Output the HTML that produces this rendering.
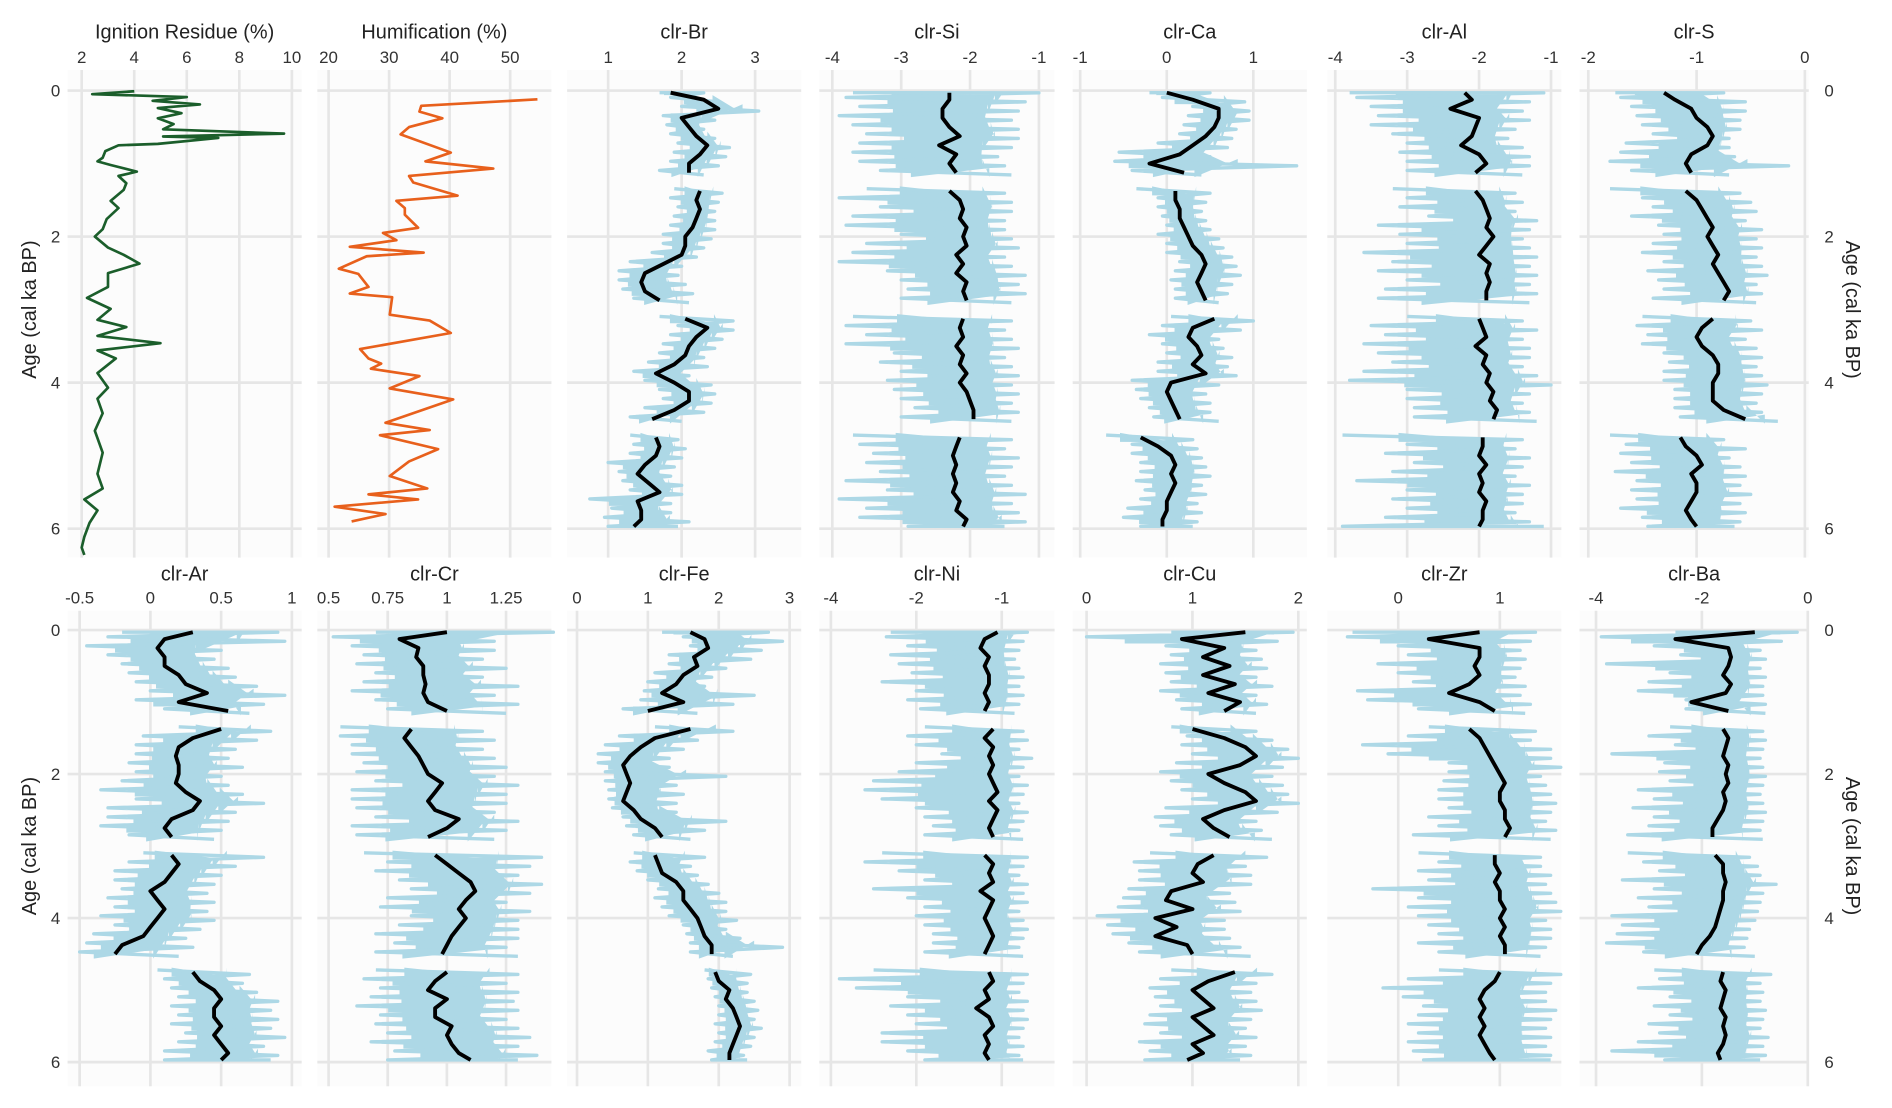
<!DOCTYPE html>
<html><head><meta charset="utf-8"><title>Geochemical profiles</title>
<style>
html,body{margin:0;padding:0;background:#fff;}
svg{display:block;font-family:"Liberation Sans",Arial,sans-serif;}
</style></head>
<body>
<svg id="chart" width="1892" height="1108" viewBox="0 0 1568 918" preserveAspectRatio="none" xmlns="http://www.w3.org/2000/svg"></svg>
<script>
// ---------- data ----------
const depthStep = 0.125; // ka per sample index (0..48)
const ageTicks = [0, 2, 4, 6];

const ignDepth = [0.01,0.05,0.09,0.14,0.19,0.24,0.31,0.38,0.46,0.53,0.59,0.63,0.65,0.73,0.75,0.83,0.92,0.97,1.02,1.11,1.17,1.27,1.36,1.51,1.61,1.76,1.9,2.0,2.15,2.25,2.37,2.5,2.69,2.84,2.99,3.14,3.24,3.36,3.46,3.56,3.67,3.87,4.07,4.22,4.42,4.66,4.96,5.25,5.45,5.6,5.75,5.92,6.11,6.26,6.36];
const ignValue = [4.0,2.4,6.0,4.7,6.5,4.9,5.8,4.9,5.5,5.1,9.7,5.1,7.2,4.9,3.4,2.9,2.8,2.6,3.1,4.1,3.4,3.7,3.6,3.1,3.4,2.95,2.8,2.5,3.0,3.6,4.2,3.0,3.0,2.2,3.1,2.6,3.7,2.6,5.0,2.6,3.3,2.6,3.0,2.6,2.8,2.5,2.8,2.6,2.8,2.1,2.6,2.3,2.1,2.0,2.1];

const humDepth = [0.12,0.21,0.29,0.38,0.5,0.6,0.85,0.97,1.07,1.17,1.26,1.44,1.51,1.61,1.7,1.88,1.95,2.05,2.14,2.22,2.27,2.44,2.51,2.69,2.78,2.83,3.07,3.15,3.32,3.54,3.67,3.74,3.81,3.91,4.08,4.23,4.55,4.65,4.72,4.91,5.08,5.28,5.45,5.53,5.6,5.7,5.8,5.9];
const humValue = [54.5,35.3,35,38.8,33.3,31.9,40.2,36,47.2,33.3,34,41.3,31.2,32.6,32.6,34.8,29,31.2,23.5,35.7,26.3,21.7,24.9,26.6,23.5,30.5,30.1,36.7,40.2,25.2,26.6,28.7,27,35,30.1,40.6,29.4,36.7,28.5,38.1,33.3,30.1,36.3,26.6,34.8,21,29.4,23.8];

const brS=[1.85,2.3,2.5,2.0,2.1,2.2,2.35,2.25,2.1,2.1,null,2.25,2.2,2.25,2.2,2.15,2.05,2.05,2.0,1.75,1.5,1.45,1.5,1.7,null,2.05,2.35,2.2,2.1,2.05,1.9,1.65,1.9,2.1,2.1,1.9,1.6,null,1.65,1.7,1.65,1.5,1.4,1.55,1.7,1.4,1.45,1.45,1.35];
const brL=[1.7,1.85,2.0,1.75,1.8,1.85,1.95,1.9,1.85,1.7,null,1.9,1.85,1.95,1.9,1.85,1.75,1.75,1.6,1.3,1.15,1.15,1.2,1.35,null,1.7,1.95,1.85,1.75,1.7,1.55,1.35,1.5,1.7,1.75,1.5,1.3,null,1.3,1.35,1.3,1.0,1.15,1.2,1.3,0.75,1.05,0.95,1.0];
const brH=[2.3,2.5,3.05,2.45,2.3,2.45,2.65,2.6,2.5,2.3,null,2.55,2.5,2.45,2.45,2.45,2.4,2.3,2.2,2.0,1.95,2.05,2.15,2.1,null,2.7,2.7,2.55,2.45,2.3,2.35,2.1,2.4,2.45,2.4,2.3,2.0,null,1.95,2.05,2.0,1.9,1.85,2.0,2.0,1.85,1.85,2.1,1.95];

const siS=[-2.3,-2.3,-2.4,-2.4,-2.3,-2.15,-2.45,-2.2,-2.3,-2.2,null,-2.3,-2.15,-2.1,-2.15,-2.05,-2.1,-2.05,-2.2,-2.1,-2.2,-2.05,-2.1,-2.05,null,-2.1,-2.15,-2.1,-2.2,-2.1,-2.15,-2.05,-2.15,-2.05,-2.0,-1.95,-1.95,null,-2.15,-2.2,-2.25,-2.2,-2.25,-2.2,-2.25,-2.15,-2.2,-2.05,-2.1];
const siL=[-3.7,-3.8,-3.6,-3.9,-3.7,-3.5,-3.6,-3.7,-3.6,-3.3,null,-3.5,-3.9,-3.3,-3.7,-3.8,-3.0,-3.5,-3.7,-3.9,-3.2,-3.0,-2.9,-3.0,null,-3.7,-3.8,-3.5,-3.8,-3.1,-3.3,-3.0,-3.2,-3.1,-3.0,-2.8,-3.0,null,-3.7,-3.6,-3.4,-3.5,-3.3,-3.8,-3.2,-3.9,-3.5,-3.6,-2.9];
const siH=[-1.0,-1.2,-1.3,-1.4,-1.3,-1.3,-1.4,-1.6,-1.5,-1.4,null,-1.5,-1.4,-1.4,-1.5,-1.5,-1.4,-1.3,-1.5,-1.4,-1.2,-1.3,-1.2,-1.4,null,-1.4,-1.5,-1.4,-1.3,-1.5,-1.4,-1.3,-1.4,-1.3,-1.4,-1.3,-1.4,null,-1.4,-1.5,-1.3,-1.4,-1.5,-1.4,-1.2,-1.4,-1.3,-1.2,-1.5];

const caS=[0.0,0.3,0.6,0.6,0.55,0.45,0.3,0.15,-0.2,0.2,null,0.1,0.1,0.15,0.15,0.2,0.25,0.3,0.4,0.45,0.4,0.35,0.4,0.45,null,0.55,0.3,0.25,0.35,0.4,0.3,0.45,0.05,0.0,0.05,0.1,0.15,null,-0.3,-0.1,0.05,0.1,0.05,0.1,0.05,0.0,0.0,-0.05,-0.05];
const caL=[-0.2,-0.05,0.3,0.25,0.2,0.15,-0.1,-0.55,-0.6,-0.4,null,-0.35,-0.1,-0.1,-0.05,0.0,-0.1,0.0,0.0,0.15,0.1,0.05,0.1,0.1,null,0.05,-0.05,-0.2,-0.05,0.0,-0.1,-0.1,-0.4,-0.35,-0.3,-0.2,-0.15,null,-0.7,-0.4,-0.4,-0.3,-0.3,-0.35,-0.25,-0.3,-0.45,-0.5,-0.3];
const caH=[0.5,0.9,0.95,0.95,0.8,0.75,0.7,0.5,1.5,0.4,null,0.5,0.45,0.4,0.45,0.5,0.6,0.65,0.75,0.8,0.85,0.75,0.7,0.6,null,1.0,0.85,0.6,0.65,0.75,0.7,0.8,0.6,0.45,0.5,0.5,0.6,null,0.3,0.35,0.4,0.45,0.5,0.4,0.45,0.35,0.4,0.35,0.3];

const alS=[-2.2,-2.1,-2.4,-2.0,-2.05,-2.1,-2.25,-2.0,-1.9,-2.05,null,-2.05,-1.95,-1.9,-1.85,-1.9,-1.8,-1.9,-2.0,-1.85,-1.9,-1.85,-1.9,-1.9,null,-2.0,-1.95,-1.9,-2.05,-1.9,-1.95,-1.85,-1.9,-1.8,-1.85,-1.75,-1.8,null,-1.95,-1.95,-2.0,-1.9,-2.0,-1.95,-2.0,-1.9,-1.95,-1.95,-2.0];
const alL=[-3.8,-3.7,-3.5,-3.4,-3.5,-3.2,-3.0,-3.1,-3.0,-3.0,null,-3.2,-3.0,-3.1,-2.7,-3.4,-3.1,-3.0,-3.6,-3.2,-3.4,-3.0,-3.3,-3.4,null,-3.0,-3.5,-3.3,-3.6,-3.4,-3.2,-3.6,-3.8,-3.0,-3.0,-2.9,-2.9,null,-3.9,-3.0,-3.3,-2.9,-3.2,-3.7,-3.0,-3.2,-3.0,-3.3,-3.9];
const alH=[-1.1,-1.3,-1.4,-1.3,-1.5,-1.6,-1.4,-1.3,-1.3,-1.4,null,-1.5,-1.4,-1.5,-1.2,-1.3,-1.4,-1.3,-1.2,-1.3,-1.2,-1.3,-1.2,-1.3,null,-1.4,-1.2,-1.4,-1.3,-1.3,-1.4,-1.2,-1.0,-1.3,-1.4,-1.3,-1.2,null,-1.4,-1.5,-1.3,-1.4,-1.5,-1.3,-1.4,-1.4,-1.5,-1.3,-1.1];

const sS=[-1.3,-1.2,-1.05,-1.0,-0.9,-0.85,-0.9,-1.05,-1.1,-1.05,null,-1.1,-1.0,-0.95,-0.9,-0.85,-0.9,-0.85,-0.8,-0.85,-0.8,-0.75,-0.7,-0.75,null,-0.85,-0.95,-1.0,-0.95,-0.85,-0.8,-0.8,-0.85,-0.85,-0.85,-0.75,-0.55,null,-1.15,-1.1,-1.0,-0.95,-1.05,-1.0,-1.0,-1.05,-1.1,-1.05,-1.0];
const sL=[-1.75,-1.7,-1.6,-1.55,-1.5,-1.4,-1.65,-1.7,-1.8,-1.6,null,-1.8,-1.5,-1.4,-1.6,-1.35,-1.3,-1.4,-1.5,-1.3,-1.45,-1.35,-1.3,-1.4,null,-1.5,-1.55,-1.45,-1.5,-1.3,-1.25,-1.3,-1.3,-1.2,-1.2,-1.2,-1.15,null,-1.8,-1.65,-1.7,-1.6,-1.75,-1.55,-1.6,-1.55,-1.7,-1.5,-1.45];
const sH=[-0.75,-0.55,-0.55,-0.6,-0.6,-0.7,-0.7,-0.65,-0.15,-0.7,null,-0.6,-0.5,-0.45,-0.55,-0.4,-0.45,-0.4,-0.45,-0.4,-0.35,-0.45,-0.4,-0.45,null,-0.5,-0.4,-0.55,-0.45,-0.4,-0.45,-0.4,-0.35,-0.4,-0.45,-0.4,-0.25,null,-0.75,-0.55,-0.7,-0.6,-0.55,-0.6,-0.5,-0.6,-0.55,-0.6,-0.65];

const arS=[0.3,0.1,0.05,0.1,0.1,0.2,0.25,0.4,0.2,0.55,null,0.5,0.3,0.2,0.18,0.2,0.2,0.18,0.25,0.35,0.3,0.15,0.1,0.15,null,0.15,0.2,0.15,0.1,0.0,0.05,0.1,0.05,0.0,-0.05,-0.2,-0.25,null,0.3,0.35,0.45,0.5,0.45,0.45,0.5,0.45,0.5,0.55,0.5];
const arL=[-0.2,-0.3,-0.45,-0.3,-0.2,-0.15,-0.1,0.0,-0.1,0.1,null,0.2,-0.05,-0.1,-0.1,-0.15,-0.1,-0.2,-0.35,-0.1,-0.3,-0.3,-0.35,-0.15,null,-0.05,-0.15,-0.25,-0.25,-0.2,-0.3,-0.25,-0.35,-0.25,-0.4,-0.45,-0.5,null,0.05,0.1,0.15,0.2,0.15,0.2,0.15,0.25,0.2,0.1,0.1];
const arH=[0.9,0.95,0.5,0.45,0.55,0.6,0.75,0.95,0.8,0.7,null,0.85,0.75,0.6,0.55,0.65,0.5,0.55,0.65,0.8,0.6,0.55,0.5,0.45,null,0.8,0.6,0.5,0.45,0.4,0.45,0.4,0.45,0.35,0.25,0.3,0.2,null,0.7,0.65,0.75,0.9,0.85,0.9,0.85,0.95,0.8,0.9,0.85];

const crS=[1.0,0.8,0.88,0.87,0.9,0.9,0.91,0.9,0.92,1.0,null,0.85,0.82,0.85,0.88,0.9,0.92,0.98,0.95,0.92,0.95,1.05,1.0,0.92,null,0.95,1.0,1.05,1.1,1.12,1.08,1.05,1.08,1.05,1.02,1.0,0.98,null,1.0,0.95,0.92,1.0,0.95,0.95,1.02,1.0,1.02,1.05,1.1];
const crL=[0.7,0.52,0.6,0.65,0.62,0.7,0.65,0.6,0.7,0.75,null,0.55,0.55,0.6,0.6,0.65,0.62,0.7,0.6,0.6,0.62,0.7,0.6,0.62,null,0.65,0.75,0.7,0.8,0.85,0.75,0.72,0.85,0.8,0.7,0.78,0.7,null,0.7,0.65,0.72,0.68,0.62,0.72,0.7,0.75,0.68,0.78,0.75];
const crH=[1.45,1.2,1.2,1.15,1.25,1.15,1.3,1.2,1.3,1.25,null,1.15,1.2,1.15,1.2,1.25,1.2,1.3,1.25,1.25,1.2,1.3,1.25,1.2,null,1.4,1.35,1.3,1.4,1.35,1.25,1.35,1.3,1.3,1.3,1.25,1.3,null,1.3,1.25,1.3,1.28,1.3,1.25,1.3,1.35,1.3,1.38,1.3];

const feS=[1.6,1.8,1.85,1.65,1.7,1.5,1.4,1.2,1.5,1.0,null,1.6,1.1,0.9,0.75,0.65,0.7,0.75,0.7,0.65,0.8,0.9,1.1,1.2,null,1.1,1.15,1.2,1.4,1.5,1.5,1.6,1.7,1.75,1.8,1.9,1.9,null,1.95,2.0,2.15,2.1,2.2,2.25,2.3,2.25,2.2,2.15,2.15];
const feL=[1.2,1.5,1.6,1.3,1.3,1.1,1.0,0.95,0.9,0.65,null,1.1,0.6,0.4,0.3,0.3,0.4,0.4,0.45,0.45,0.5,0.65,0.7,0.8,null,0.8,0.75,0.85,1.0,1.15,1.1,1.2,1.3,1.5,1.55,1.6,1.6,null,1.8,1.85,1.9,1.95,2.0,2.0,1.95,2.0,1.95,1.85,1.9];
const feH=[2.7,2.9,2.6,2.45,2.1,1.9,1.8,2.5,2.2,1.7,null,2.2,1.7,1.5,1.3,1.3,2.1,1.4,1.5,1.4,1.4,2.1,1.8,1.6,null,1.8,1.6,1.7,1.85,2.0,2.1,2.1,2.25,2.1,2.3,2.9,2.2,null,2.45,2.4,2.4,2.5,2.55,2.5,2.6,2.5,2.45,2.35,2.4];

const niS=[-1.05,-1.2,-1.25,-1.15,-1.2,-1.15,-1.15,-1.2,-1.15,-1.2,null,-1.1,-1.2,-1.1,-1.15,-1.1,-1.15,-1.1,-1.05,-1.15,-1.05,-1.1,-1.15,-1.1,null,-1.2,-1.1,-1.15,-1.1,-1.25,-1.1,-1.15,-1.2,-1.15,-1.1,-1.15,-1.2,null,-1.15,-1.1,-1.2,-1.15,-1.3,-1.15,-1.1,-1.2,-1.15,-1.2,-1.15];
const niL=[-2.3,-2.35,-2.1,-2.3,-2.2,-2.05,-2.4,-2.0,-2.1,-1.95,null,-1.9,-2.1,-2.0,-1.7,-2.0,-2.2,-2.5,-2.6,-2.4,-2.0,-1.9,-1.8,-1.9,null,-2.4,-2.6,-2.2,-1.9,-2.5,-2.1,-1.9,-2.0,-1.9,-1.8,-1.8,-1.9,null,-2.5,-2.9,-2.7,-2.1,-2.3,-2.1,-2.0,-2.4,-2.4,-2.1,-1.9];
const niH=[-0.7,-0.75,-0.8,-0.85,-0.8,-0.75,-0.8,-0.75,-0.8,-0.85,null,-0.75,-0.7,-0.8,-0.65,-0.75,-0.8,-0.7,-0.75,-0.8,-0.7,-0.75,-0.8,-0.75,null,-0.7,-0.75,-0.8,-0.7,-0.75,-0.7,-0.8,-0.75,-0.7,-0.75,-0.8,-0.75,null,-0.7,-0.75,-0.8,-0.7,-0.75,-0.7,-0.75,-0.8,-0.75,-0.8,-0.75];

const cuS=[1.5,0.9,1.3,1.1,1.35,1.1,1.4,1.15,1.45,1.3,null,1.0,1.3,1.5,1.6,1.45,1.15,1.3,1.5,1.6,1.3,1.1,1.2,1.35,null,1.2,1.05,1.0,1.1,0.8,0.75,1.0,0.65,0.85,0.65,0.95,1.0,null,1.4,1.15,1.0,1.1,1.2,1.0,1.1,1.2,1.0,1.1,0.95];
const cuL=[0.8,0.0,0.75,0.8,0.7,0.75,0.8,0.7,0.85,0.9,null,0.8,0.95,0.9,1.0,0.85,0.7,0.8,0.9,1.0,0.75,0.65,0.7,0.8,null,0.6,0.45,0.5,0.5,0.4,0.35,0.3,0.1,0.2,0.25,0.4,0.5,null,0.8,0.7,0.6,0.65,0.7,0.6,0.55,0.7,0.5,0.6,0.55];
const cuH=[1.95,1.8,1.6,1.65,1.7,1.6,1.75,1.6,1.7,1.6,null,1.6,1.75,1.9,2.0,1.85,1.75,1.85,1.9,2.0,1.8,1.6,1.65,1.75,null,1.7,1.5,1.55,1.55,1.35,1.4,1.45,1.3,1.3,1.35,1.45,1.55,null,1.75,1.6,1.55,1.6,1.65,1.55,1.5,1.6,1.5,1.55,1.45];

const zrS=[0.8,0.3,0.8,0.8,0.75,0.8,0.7,0.5,0.8,0.95,null,0.7,0.8,0.85,0.9,0.95,1.0,1.05,1.0,1.0,1.05,1.05,1.1,1.05,null,0.95,0.95,1.0,0.95,1.0,1.0,1.05,1.0,1.05,1.0,1.05,1.05,null,1.0,0.95,0.85,0.8,0.85,0.8,0.85,0.8,0.85,0.9,0.95];
const zrL=[-0.45,-0.5,0.0,0.1,-0.2,0.0,0.15,-0.4,-0.3,0.2,null,0.3,0.1,-0.35,-0.1,0.5,0.5,0.45,0.4,0.4,0.5,0.3,0.4,0.15,null,0.2,0.4,0.2,0.3,-0.25,0.2,0.1,0.2,0.3,0.4,0.2,0.4,null,0.4,0.1,-0.15,0.05,0.25,0.2,0.1,0.2,0.1,0.15,0.25];
const zrH=[1.35,1.3,1.2,1.25,1.2,1.15,1.25,1.2,1.3,1.25,null,1.35,1.3,1.5,1.5,1.6,1.4,1.45,1.5,1.55,1.5,1.45,1.55,1.5,null,1.4,1.4,1.5,1.45,1.5,1.55,1.6,1.45,1.5,1.5,1.45,1.4,null,1.6,1.5,1.45,1.45,1.55,1.5,1.45,1.5,1.45,1.5,1.5];

const baS=[-1.0,-2.5,-1.5,-1.45,-1.5,-1.6,-1.45,-1.55,-2.2,-1.5,null,-1.6,-1.5,-1.55,-1.6,-1.5,-1.55,-1.5,-1.6,-1.55,-1.6,-1.7,-1.8,-1.8,null,-1.75,-1.6,-1.6,-1.55,-1.6,-1.6,-1.65,-1.7,-1.75,-1.85,-2.0,-2.1,null,-1.6,-1.65,-1.55,-1.6,-1.65,-1.55,-1.6,-1.55,-1.6,-1.7,-1.65];
const baL=[-2.5,-3.9,-2.9,-2.4,-3.8,-2.6,-3.0,-3.2,-2.3,-2.3,null,-2.6,-3.0,-2.5,-3.7,-2.7,-2.8,-2.6,-3.2,-2.9,-3.3,-2.9,-3.0,-3.4,null,-3.4,-3.1,-2.8,-3.5,-2.9,-3.2,-3.0,-3.7,-3.5,-3.6,-3.8,-3.1,null,-2.9,-2.8,-3.2,-2.6,-2.9,-2.6,-3.0,-2.8,-3.2,-3.7,-2.7];
const baH=[-0.2,-0.5,-0.9,-0.8,-0.9,-0.8,-0.85,-0.85,-0.8,-0.8,null,-0.85,-0.8,-0.85,-0.9,-0.85,-0.8,-0.85,-0.9,-0.85,-0.8,-0.85,-0.9,-0.85,null,-1.1,-0.95,-0.9,-0.6,-0.85,-0.9,-0.95,-1.0,-1.1,-1.15,-1.2,-1.0,null,-0.7,-0.9,-0.85,-0.9,-0.8,-0.85,-0.9,-0.75,-0.85,-0.8,-0.9];

const ignTicks=[2,4,6,8,10], humTicks=[20,30,40,50], brTicks=[1,2,3], siTicks=[-4,-3,-2,-1], caTicks=[-1,0,1], alTicks=[-4,-3,-2,-1], sTicks=[-2,-1,0];
const arTicks=[-0.5,0,0.5,1], crTicks=[0.5,0.75,1,1.25], feTicks=[0,1,2,3], niTicks=[-3,-2,-1], niTickLabels=["-4","-2","-1"], cuTicks=[0,1,2], zrTicks=[0,1], baTicks=[-4,-2,0];

// ---------- layout ----------
const NS="http://www.w3.org/2000/svg";
const svg=document.getElementById('chart');
function mk(tag,attrs,parent){const e=document.createElementNS(NS,tag);for(const k in attrs)e.setAttribute(k,attrs[k]);(parent||svg).appendChild(e);return e;}
const rows=[{y0:75,y6:438,gTop:58,gBot:462,title:32,tick:52},{y0:522,y6:880,gTop:506,gBot:900,title:481,tick:500}];
const cols=[[56,250],[263,457],[470,664],[679,874],[889,1083],[1100,1294],[1309,1499]];
function yScale(r,d){return r.y0+(r.y6-r.y0)*d/6;}

const panels=[
 {row:0,col:0,title:"Ignition Residue (%)",d0:2,p0:67.7,d1:10,p1:241.9,ticks:ignTicks,type:"line",depth:ignDepth,val:ignValue,color:"#1b5e2b",name:"ignition-residue"},
 {row:0,col:1,title:"Humification (%)",d0:20,p0:272.3,d1:50,p1:422.8,ticks:humTicks,type:"line",depth:humDepth,val:humValue,color:"#e8601c",name:"humification"},
 {row:0,col:2,title:"clr-Br",d0:1,p0:504,d1:3,p1:625.8,ticks:brTicks,S:brS,L:brL,H:brH,name:"clr-br"},
 {row:0,col:3,title:"clr-Si",d0:-4,p0:689.8,d1:-1,p1:861,ticks:siTicks,S:siS,L:siL,H:siH,name:"clr-si"},
 {row:0,col:4,title:"clr-Ca",d0:-1,p0:895.2,d1:1,p1:1038.7,ticks:caTicks,S:caS,L:caL,H:caH,name:"clr-ca"},
 {row:0,col:5,title:"clr-Al",d0:-4,p0:1106.6,d1:-1,p1:1285.4,ticks:alTicks,S:alS,L:alL,H:alH,name:"clr-al"},
 {row:0,col:6,title:"clr-S",d0:-2,p0:1316.3,d1:0,p1:1495.8,ticks:sTicks,S:sS,L:sL,H:sH,name:"clr-s"},
 {row:1,col:0,title:"clr-Ar",d0:-0.5,p0:66,d1:1,p1:241.9,ticks:arTicks,S:arS,L:arL,H:arH,name:"clr-ar"},
 {row:1,col:1,title:"clr-Cr",d0:0.5,p0:272.3,d1:1.25,p1:419.4,ticks:crTicks,S:crS,L:crL,H:crH,name:"clr-cr"},
 {row:1,col:2,title:"clr-Fe",d0:0,p0:478.2,d1:3,p1:654.4,ticks:feTicks,S:feS,L:feL,H:feH,name:"clr-fe"},
 {row:1,col:3,title:"clr-Ni",d0:-3,p0:688.6,d1:-1,p1:830.2,ticks:niTicks,labels:niTickLabels,S:niS,L:niL,H:niH,name:"clr-ni"},
 {row:1,col:4,title:"clr-Cu",d0:0,p0:900.5,d1:2,p1:1076,ticks:cuTicks,S:cuS,L:cuL,H:cuH,name:"clr-cu"},
 {row:1,col:5,title:"clr-Zr",d0:0,p0:1158.8,d1:1,p1:1243,ticks:zrTicks,S:zrS,L:zrL,H:zrH,name:"clr-zr"},
 {row:1,col:6,title:"clr-Ba",d0:-4,p0:1322.7,d1:0,p1:1498.2,ticks:baTicks,S:baS,L:baL,H:baH,name:"clr-ba"}
];

panels.forEach(p=>{
  const r=rows[p.row], c=cols[p.col];
  const xs=v=>p.p0+(v-p.d0)*(p.p1-p.p0)/(p.d1-p.d0);
  const g=mk('g',{});
  
  
  const bg=mk('rect',{x:c[0],y:r.gTop,width:c[1]-c[0],height:r.gBot-r.gTop,fill:"#fcfcfc"},g);
  
  
  ageTicks.forEach(a=>{
    const ln=mk('line',{x1:c[0],x2:c[1],y1:yScale(r,a),y2:yScale(r,a),stroke:"#e6e6e6","stroke-width":2.2},g);
    
    
  });
  p.ticks.forEach((t,i)=>{
    const x=xs(t);
    const ln=mk('line',{x1:x,x2:x,y1:r.gTop,y2:r.gBot,stroke:"#e6e6e6","stroke-width":2.2},g);
    
    
    const tx=mk('text',{x:x,y:r.tick,"text-anchor":"middle","font-size":14,fill:"#333"},g);
    tx.textContent=p.labels?p.labels[i]:String(t);
    
    
  });
  const tt=mk('text',{x:(c[0]+c[1])/2,y:r.title,"text-anchor":"middle","font-size":16.5,fill:"#222"},g);
  tt.textContent=p.title;
  
  
  if(p.type==="line"){
    const pts=p.val.map((v,i)=>xs(v).toFixed(1)+","+yScale(r,p.depth[i]).toFixed(1)).join(" ");
    const pl=mk('polyline',{points:pts,fill:"none",stroke:p.color,"stroke-width":2.2,"stroke-linejoin":"round"},g);
    
    
  } else {
    let raw="",sm="",penR=false,penS=false;
    // core band polygons per segment
    const segs=[];let cur=null;
    for(let k=0;k<p.S.length;k++){
      if(p.L[k]===null||p.S[k]===null){cur=null;continue;}
      if(!cur){cur=[];segs.push(cur);}
      cur.push(k);
    }
    segs.forEach(seg=>{
      const left=[],right=[];
      seg.forEach((k,j)=>{
        const d=k*depthStep;
        const yA=yScale(r,Math.max(0.03,d-0.062)), yB=yScale(r,Math.min(5.97,d+0.062));
        const lo=xs(p.S[k]+(p.L[k]-p.S[k])*0.6), hi=xs(p.S[k]+(p.H[k]-p.S[k])*0.6);
        left.push(lo.toFixed(1)+","+yA.toFixed(1), lo.toFixed(1)+","+yB.toFixed(1));
        right.unshift(hi.toFixed(1)+","+yA.toFixed(1), hi.toFixed(1)+","+yB.toFixed(1));
      });
      const poly=mk('polygon',{points:left.concat(right).join(" "),fill:"#add8e6"},g);
      
      
    });
    for(let k=0;k<p.S.length;k++){
      const d=k*depthStep;
      if(p.L[k]===null){penR=false;}else{
        const yA=yScale(r,Math.max(0.03,d-0.031)), yB=yScale(r,Math.min(5.97,d+0.031));
        raw+=(penR?"L":"M")+xs(p.L[k]).toFixed(1)+","+yA.toFixed(1)+"L"+xs(p.H[k]).toFixed(1)+","+yB.toFixed(1);
        penR=true;
      }
      if(p.S[k]===null){penS=false;}else{
        sm+=(penS?"L":"M")+xs(p.S[k]).toFixed(1)+","+yScale(r,Math.max(0.03,Math.min(5.97,d))).toFixed(1);
        penS=true;
      }
    }
    const rp=mk('path',{d:raw,fill:"none",stroke:"#add8e6","stroke-width":2.8,"stroke-linejoin":"round"},g);
    
    
    const sp=mk('path',{d:sm,fill:"none",stroke:"#000","stroke-width":3.2,"stroke-linejoin":"round"},g);
    
    
  }
});

// age axes
rows.forEach((r,ri)=>{
  ageTicks.forEach(a=>{
    const tl=mk('text',{x:50,y:yScale(r,a)+5,"text-anchor":"end","font-size":14,fill:"#333"});
    tl.textContent=String(a);
    
    
    const tr=mk('text',{x:1512,y:yScale(r,a)+5,"text-anchor":"start","font-size":14,fill:"#333"});
    tr.textContent=String(a);
    
    
  });
  const cy=(r.y0+r.y6)/2;
  const lt=mk('text',{x:0,y:0,"text-anchor":"middle","font-size":16.5,fill:"#222",transform:"translate(30,"+cy+") rotate(-90)"});
  lt.textContent="Age (cal ka BP)";
  
  
  const rt=mk('text',{x:0,y:0,"text-anchor":"middle","font-size":16.5,fill:"#222",transform:"translate(1530,"+cy+") rotate(90)"});
  rt.textContent="Age (cal ka BP)";
  
  
});
</script>
</body></html>
